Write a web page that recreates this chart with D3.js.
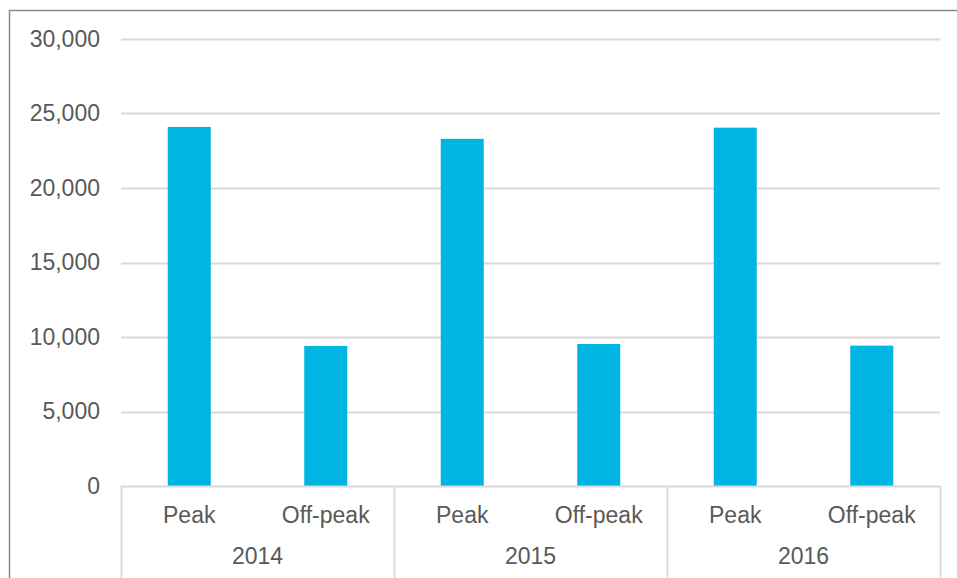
<!DOCTYPE html>
<html>
<head>
<meta charset="utf-8">
<script src="https://cdn.jsdelivr.net/npm/d3@7"></script>
<style>
  html, body { margin: 0; padding: 0; background: #fff; }
  svg { display: block; }
  text { font-family: "Liberation Sans", Arial, sans-serif; fill: #595959; }
</style>
</head>
<body>
<svg id="chart" width="957" height="578"></svg>
<script>
// Chart data
const years = ["2014", "2015", "2016"];
const periods = ["Peak", "Off-peak"];
const peakValues = [24100, 23300, 24050];
const offPeakValues = [9400, 9530, 9420];
const yTicks = [0, 5000, 10000, 15000, 20000, 25000, 30000];

const rows = [];
years.forEach((yr, i) => {
  rows.push({ year: yr, period: periods[0], value: peakValues[i] });
  rows.push({ year: yr, period: periods[1], value: offPeakValues[i] });
});

const svg = d3.select("#chart");
const W = 957, H = 578;
const plot = { left: 121, right: 940, top: 39, bottom: 486 };
const FONT = "23px";

// Outer frame (extends past the right and bottom edges)
svg.append("rect")
  .attr("x", 9.5).attr("y", 10.5)
  .attr("width", W + 10).attr("height", H + 10)
  .attr("fill", "none").attr("stroke", "#8c8c8c").attr("stroke-width", 1.5);

const y = d3.scaleLinear().domain([0, 30000]).range([plot.bottom, plot.top]);

const x = d3.scaleBand()
  .domain(rows.map(d => d.year + "|" + d.period))
  .range([plot.left, plot.right])
  .paddingInner(0.685)
  .paddingOuter(0.3425);

const xYear = d3.scaleBand().domain(years).range([plot.left, plot.right]);

// Gridlines
svg.append("g")
  .selectAll("line")
  .data(yTicks.filter(t => t > 0))
  .join("line")
  .attr("x1", plot.left).attr("x2", plot.right)
  .attr("y1", d => Math.round(y(d)) + 0.5).attr("y2", d => Math.round(y(d)) + 0.5)
  .attr("stroke", "#d9d9d9").attr("stroke-width", 1.8);

// Y axis labels
const fmt = d3.format(",");
const yAxis = d3.axisLeft(y).tickValues(yTicks).tickFormat(fmt).tickSize(0).tickPadding(21);
const gy = svg.append("g").attr("transform", `translate(${plot.left},0)`).call(yAxis);
gy.select(".domain").remove();
gy.selectAll("text")
  .attr("font-size", FONT)
  .attr("font-family", "Liberation Sans, Arial, sans-serif")
  .attr("fill", "#595959");

// Bars
svg.append("g")
  .selectAll("rect")
  .data(rows)
  .join("rect")
  .attr("x", d => x(d.year + "|" + d.period))
  .attr("width", x.bandwidth())
  .attr("y", d => y(d.value))
  .attr("height", d => y(0) - y(d.value))
  .attr("fill", "#00B5E2");

// Category axis: baseline and group separators
const axisG = svg.append("g");
axisG.append("line")
  .attr("x1", plot.left).attr("x2", plot.right)
  .attr("y1", plot.bottom + 0.5).attr("y2", plot.bottom + 0.5)
  .attr("stroke", "#d9d9d9").attr("stroke-width", 1.8);

const seps = [plot.left].concat(years.map(yr => xYear(yr) + xYear.bandwidth()));
axisG.selectAll("line.sep")
  .data(seps)
  .join("line")
  .attr("class", "sep")
  .attr("x1", d => Math.round(d) + 0.5).attr("x2", d => Math.round(d) + 0.5)
  .attr("y1", plot.bottom).attr("y2", H)
  .attr("stroke", "#d9d9d9").attr("stroke-width", 1.8);

// Period labels
axisG.selectAll("text.period")
  .data(rows)
  .join("text")
  .attr("class", "period")
  .attr("x", d => x(d.year + "|" + d.period) + x.bandwidth() / 2)
  .attr("y", 523)
  .attr("text-anchor", "middle")
  .attr("font-size", FONT)
  .text(d => d.period);

// Year labels
axisG.selectAll("text.year")
  .data(years)
  .join("text")
  .attr("class", "year")
  .attr("x", d => xYear(d) + xYear.bandwidth() / 2)
  .attr("y", 564)
  .attr("text-anchor", "middle")
  .attr("font-size", FONT)
  .text(d => d);
</script>
</body>
</html>
